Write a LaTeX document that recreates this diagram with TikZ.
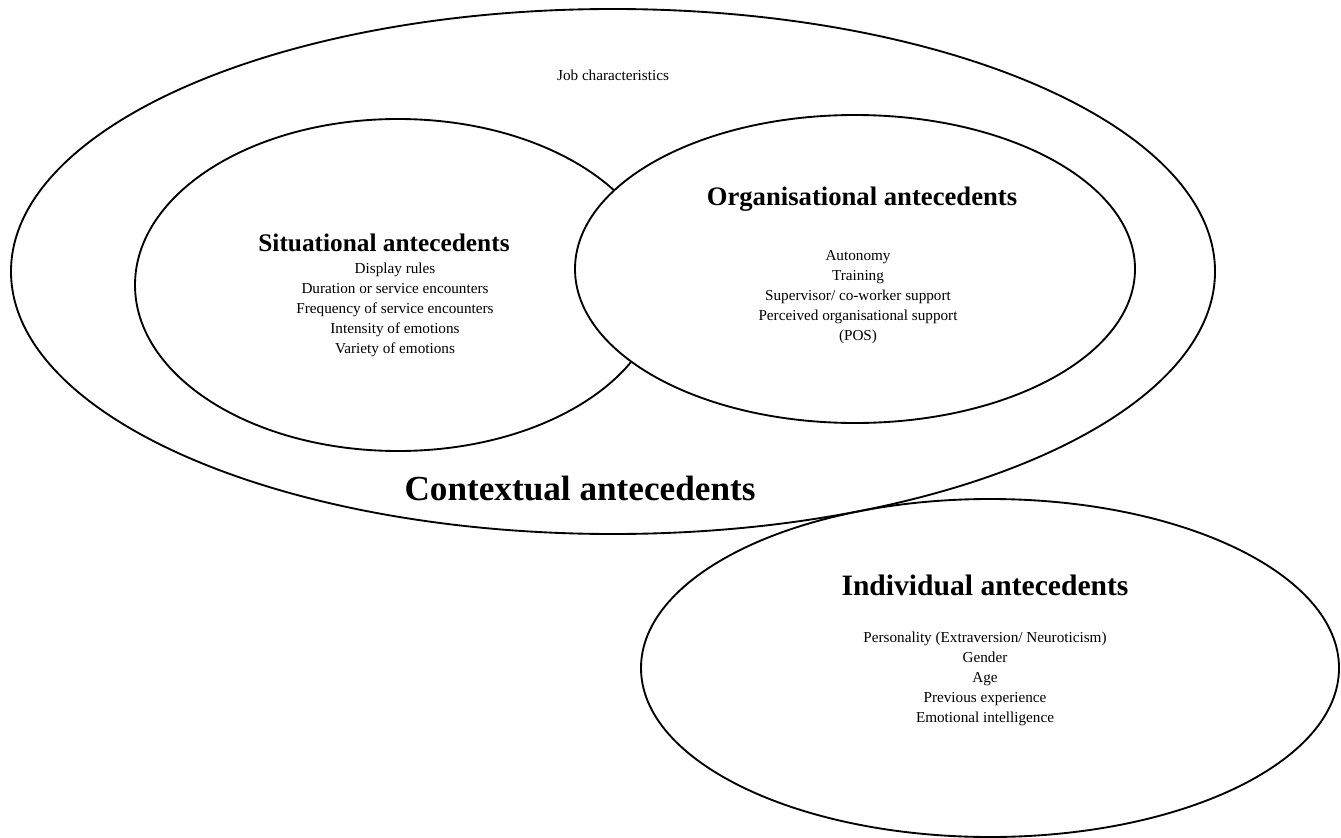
\documentclass[tikz,border=0pt]{standalone}
\usepackage{fontspec}
\setmainfont{Liberation Serif}
\usetikzlibrary{shapes.geometric,positioning}
\tikzset{
  ring/.style={draw, ellipse, line width=1.4pt, inner sep=0pt},
  head/.style={font=\bfseries\fontsize{19}{22}\selectfont, inner sep=0pt},
  items/.style={align=center, font=\fontsize{11.4}{15}\selectfont, inner sep=0pt}}

\begin{document}
\begin{tikzpicture}[x=0.75pt, y=-0.75pt]
\useasboundingbox (0,0) rectangle (1341,838);
% ellipses
\node[ring, minimum width=903pt, minimum height=393.75pt] (ctx) at (613,271.5) {};
\node[ring, minimum width=394.5pt, minimum height=249pt] (sit) at (398,285) {};
\node[ring, fill=white, minimum width=420pt, minimum height=231pt] (org) at (855,269) {};
\node[ring, minimum width=523.5pt, minimum height=253.5pt] (ind) at (990,668) {};
% texts
\node[items] (job) at (613,75) {Job characteristics};
\node[head] (sitT) at (384,243) {Situational antecedents};
\node[items] (sitL) at (395,310) {Display rules\\Duration or service encounters\\Frequency of service encounters\\Intensity of emotions\\Variety of emotions};
\node[head, font=\bfseries\fontsize{20}{23}\selectfont] (orgT) at (862,199) {Organisational antecedents};
\node[items] (orgL) at (858,297) {Autonomy\\Training\\Supervisor/ co-worker support\\Perceived organisational support\\(POS)};
\node[head, font=\bfseries\fontsize{26.4}{30}\selectfont] (ctxT) at (580,488) {Contextual antecedents};
\node[head, font=\bfseries\fontsize{22.2}{26}\selectfont] (indT) at (985,585) {Individual antecedents};
\node[items] (indL) at (985,679) {Personality (Extraversion/ Neuroticism)\\Gender\\Age\\Previous experience\\Emotional intelligence};
\end{tikzpicture}
\end{document}
